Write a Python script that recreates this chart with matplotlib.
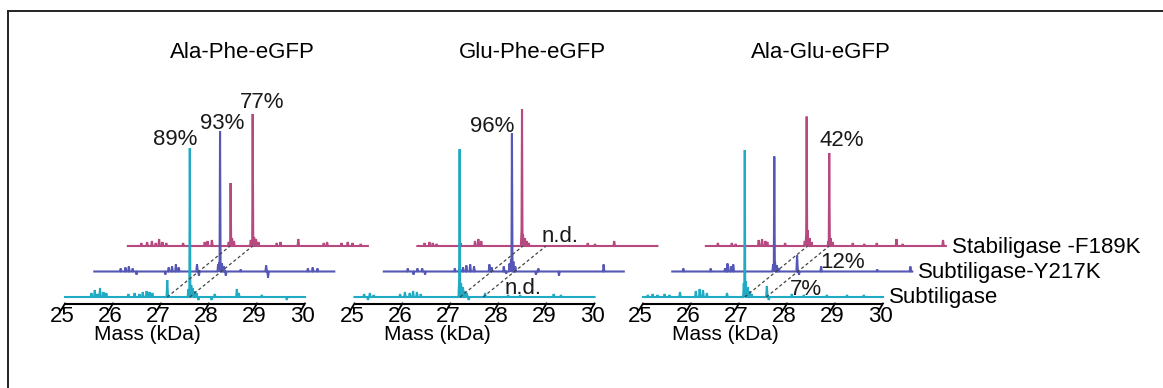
import numpy as np
import matplotlib
matplotlib.use("Agg")
import matplotlib.pyplot as plt
from matplotlib.lines import Line2D

plt.rcParams['font.family'] = ['Liberation Sans', 'DejaVu Sans']

# ---------------- data ----------------
panel_titles = ["Ala-Phe-eGFP", "Glu-Phe-eGFP", "Ala-Glu-eGFP"]
enzyme_labels = ["Subtiligase", "Subtiligase-Y217K", "Stabiligase -F189K"]
mass_ticks = [25, 26, 27, 28, 29, 30]
mass_range = (25.0, 30.0)

# (mass kDa, relative intensity) peaks for each trace
ap_subtiligase = [(27.60, 149), (27.57, 8), (27.63, 12), (27.66, 9), (27.70, 6), (27.74, 4), (27.78, -3),
                  (27.13, 17),
                  (25.55, 4), (25.62, 7), (25.68, 3), (25.73, 9), (25.80, 5), (25.86, 4), (26.32, 3),
                  (26.45, 4), (26.55, 3), (26.62, 5), (26.70, 6), (26.76, 5), (26.82, 4), (28.05, -3),
                  (28.12, 3), (28.58, 8), (28.62, 4), (29.10, 2), (29.62, -3)]
ap_y217k = [(27.62, 140), (27.58, 7), (27.60, 9), (27.66, 8), (27.70, 5), (27.74, -4),
            (27.14, 7), (27.18, -4),
            (25.55, 3), (25.65, 4), (25.72, 5), (25.80, 3), (25.88, -3), (26.48, -3), (26.55, 4),
            (26.62, 5), (26.70, 7), (26.76, 4), (28.05, 2), (28.58, 6), (28.62, -6), (29.45, 3),
            (29.55, 4), (29.65, 3)]
ap_f189k = [(27.60, 132), (27.56, 6), (27.63, 9), (27.67, 7), (27.72, 4),
            (27.14, 63), (27.10, 4), (27.17, 8), (27.21, 5),
            (25.28, 3), (25.40, 4), (25.50, 5), (25.58, 3), (25.65, 7), (25.72, 4), (25.80, 3),
            (26.15, 3), (26.60, 4), (26.66, 5), (26.75, 6), (28.10, 3), (28.18, 4), (28.55, 7),
            (29.08, 3), (29.15, 4), (29.45, 3), (29.58, 4), (29.68, 3), (29.85, 2)]

gp_subtiligase = [(27.19, 143), (27.18, 17), (27.22, 14), (27.26, 10), (27.30, 6), (27.34, 4), (27.38, -3),
                  (25.20, 3), (25.28, -3), (25.32, 4), (25.40, 2), (25.95, 3), (26.05, 5), (26.15, 4),
                  (26.22, 6), (26.30, 5), (26.38, 3), (27.72, 4), (28.20, 2), (28.45, 2), (29.15, 3),
                  (29.30, 2)]
gp_y217k = [(27.67, 138), (27.62, 8), (27.65, 12), (27.70, 10), (27.74, 5),
            (25.50, 3), (25.62, -3), (25.70, 3), (25.80, 3), (25.86, -3), (26.48, 3), (26.58, 5),
            (26.65, 4), (26.72, 6), (26.80, 7), (26.88, 5), (27.20, 7), (27.25, 4), (27.50, 5),
            (27.55, -2), (28.17, -3), (28.22, 3), (28.65, -4), (29.58, 7)]
gp_f189k = [(27.18, 132), (27.17, 16), (27.20, 12), (27.24, 8), (27.28, 5), (27.32, 3),
            (25.15, 3), (25.25, 4), (25.32, 3), (25.40, 2), (25.90, 3), (26.20, 5), (26.27, 7),
            (26.33, 5), (28.55, 3), (28.70, 2), (29.10, 5)]

ag_subtiligase = [(27.12, 147), (27.10, 14), (27.14, 16), (27.18, 10), (27.22, 6), (27.26, 3),
                  (27.58, 11), (27.62, -3),
                  (25.10, 2), (25.20, 3), (25.30, 2), (25.45, 3), (25.55, 2), (25.77, 5), (26.10, 6),
                  (26.18, 8), (26.25, 7), (26.33, 4), (26.75, 4), (28.10, 3), (28.35, 2), (28.83, 2),
                  (29.25, 2), (29.60, 2)]
ag_y217k = [(27.125, 115), (27.10, 7), (27.14, 10), (27.18, 6), (27.22, 3),
            (27.60, 16), (27.64, -3),
            (25.23, 3), (25.80, 3), (26.10, 3), (26.15, 8), (26.22, 5), (26.27, 7), (28.10, 5),
            (29.27, 2), (29.96, 5)]
ag_f189k = [(27.10, 126), (27.06, 5), (27.09, 12), (27.12, 16), (27.16, 8), (27.20, 4),
            (27.57, 93), (27.55, 5), (27.60, 8), (27.64, 4),
            (25.25, 3), (25.54, 3), (25.62, 2), (26.10, 6), (26.17, 7), (26.24, 5), (26.28, 4),
            (26.65, 3), (28.06, 3), (28.30, 2), (28.56, 3), (28.97, 7), (29.10, 2), (29.94, 6)]

# dashed connector masses (unmodified / ligated product)
ap_links = [27.13, 27.60]
gp_links = [27.20, 27.68]
ag_links = [27.12, 27.57]

# annotations: (text, mass, intensity level)
ap_notes = [("89%", 27.29, 152), ("93%", 28.27, 168), ("77%", 29.10, 189)]
gp_notes = [("96%", 27.86, 165), ("n.d.", 29.28, 55), ("n.d.", 28.51, 3)]
ag_notes = [("42%", 29.15, 151), ("12%", 29.15, 29), ("7%", 28.40, 2)]

# ---------------- style ----------------
colors = ["#21aac4", "#5557b6", "#b6497f"]
dx = [0.0, 0.61, 1.31]     # waterfall offsets (kDa)
dy = [0.0, 25.5, 51.0]     # waterfall offsets (intensity)
axis_y = -6.5

W, H = 1163, 388
fig = plt.figure(figsize=(W / 100, H / 100), dpi=100)

# figure frame (top & left)
fig.add_artist(Line2D([8 / W, 1.0], [1 - 11 / H, 1 - 11 / H], color="#222222", lw=1.4))
fig.add_artist(Line2D([8 / W, 8 / W], [0, 1 - 11 / H], color="#222222", lw=1.4))

px_per_kda = 48.0
x0s = [65.0, 354.5, 643.0]
xlim = (24.4, 31.9)
ylim = (-63, 267)
top_px, bot_px = 30, 360

panels = [
    ([ap_subtiligase, ap_y217k, ap_f189k], ap_links, ap_notes),
    ([gp_subtiligase, gp_y217k, gp_f189k], gp_links, gp_notes),
    ([ag_subtiligase, ag_y217k, ag_f189k], ag_links, ag_notes),
]

xg = np.linspace(mass_range[0], mass_range[1], 5001)

def spectrum(peaks):
    y = np.zeros_like(xg)
    for m, h in peaks:
        w = 0.010 if abs(h) > 40 else 0.014
        y += h * np.clip(1 - np.abs(xg - m) / w, 0, 1)
    return y

for i, (traces, links, notes) in enumerate(panels):
    left_px = x0s[i] + (xlim[0] - 25) * px_per_kda
    width_px = (xlim[1] - xlim[0]) * px_per_kda
    ax = fig.add_axes([left_px / W, (H - bot_px) / H, width_px / W, (bot_px - top_px) / H])
    ax.set_xlim(*xlim)
    ax.set_ylim(*ylim)
    ax.axis("off")
    ax.patch.set_alpha(0)

    # traces drawn back to front
    for k in [2, 1, 0]:
        y = spectrum(traces[k])
        ax.fill_between(xg + dx[k], dy[k], y + dy[k], color=colors[k], lw=0, clip_on=False)
        ax.plot(xg + dx[k], y + dy[k], color=colors[k], lw=1.5, clip_on=False,
                solid_joinstyle="miter")

    # dashed connectors
    for m in links:
        ax.plot([m, m + dx[2]], [dy[0], dy[2]], color="#444444", lw=0.9,
                ls=(0, (2.5, 2)), clip_on=False)

    # mass axis
    ax.plot([mass_range[0], mass_range[1]], [axis_y, axis_y], color="black", lw=1.5,
            clip_on=False, solid_capstyle="butt")
    for t in mass_ticks:
        ax.plot([t, t - 0.08], [axis_y, axis_y - 6.5], color="black", lw=1.3, clip_on=False)
        ax.text(t - 0.05, -19, str(t), ha="center", va="center", fontsize=16)
    ax.text(26.72, -38, "Mass (kDa)", ha="center", va="center", fontsize=15)

    ax.text(28.7, 245, panel_titles[i], ha="center", va="center", fontsize=16)

    for txt, m, lev in notes:
        ax.text(m, lev, txt, ha="center", va="baseline", fontsize=16, color="#1a1a1a")

    if i == 2:
        for k in range(3):
            ax.text(mass_range[1] + dx[k] + 0.12, dy[k] - 1, enzyme_labels[k],
                    ha="left", va="center", fontsize=16)

fig.savefig("out.png", dpi=100)
